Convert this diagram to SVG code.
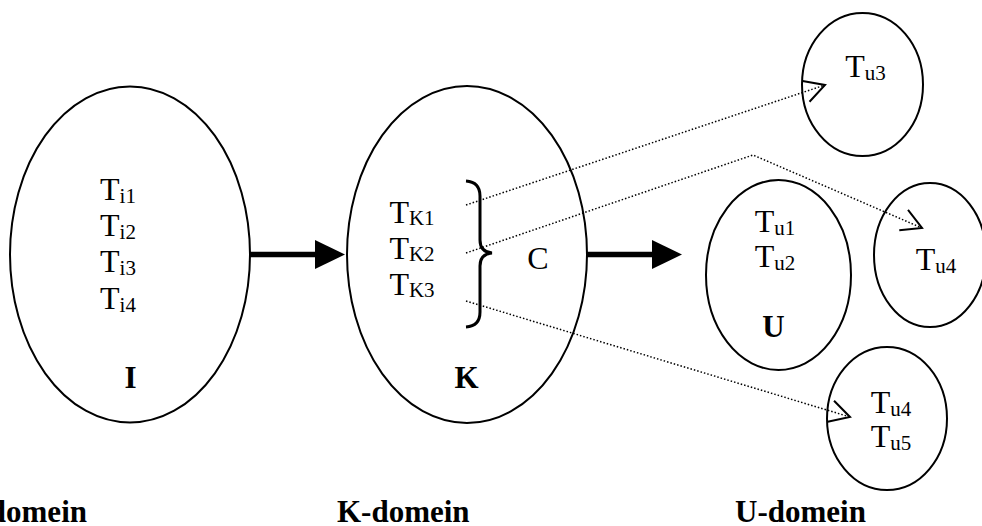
<svg xmlns="http://www.w3.org/2000/svg" width="982" height="526" viewBox="0 0 982 526">
<style>
  .node { fill: #fff; stroke: #000; stroke-width: 2; }
  .t { font-family: "Liberation Serif", "Times New Roman", serif; font-size: 32px; fill: #000; text-anchor: middle; }
  .b { font-family: "Liberation Serif", "Times New Roman", serif; font-size: 31px; font-weight: bold; fill: #000; }
  .s { font-size: 21px; }
  .thick { stroke: #000; stroke-width: 5.7; fill: none; }
  .dot { stroke: #000; stroke-width: 1.5; fill: none; stroke-dasharray: 1.5 2; }
</style>
<defs>
  <marker id="open" markerUnits="userSpaceOnUse" markerWidth="26" markerHeight="26" viewBox="0 0 26 26" refX="23" refY="13" orient="auto" overflow="visible">
    <path d="M3,2 L23,13 L3,24" fill="none" stroke="#000" stroke-width="2"/>
  </marker>
</defs>

<g id="node-I">
  <ellipse class="node" cx="130" cy="254.5" rx="120" ry="168"/>
  <text class="t" x="118" y="200">T<tspan class="s" dy="3">i1</tspan></text>
  <text class="t" x="118" y="236">T<tspan class="s" dy="3">i2</tspan></text>
  <text class="t" x="118" y="272">T<tspan class="s" dy="3">i3</tspan></text>
  <text class="t" x="118" y="309">T<tspan class="s" dy="3">i4</tspan></text>
  <text class="b" x="130.5" y="388" text-anchor="middle">I</text>
</g>

<g id="node-K">
  <ellipse class="node" cx="467" cy="254.5" rx="120" ry="168.5"/>
  <text class="t" x="412" y="223">T<tspan class="s" dy="2">K1</tspan></text>
  <text class="t" x="412" y="259">T<tspan class="s" dy="2">K2</tspan></text>
  <text class="t" x="412" y="295">T<tspan class="s" dy="2">K3</tspan></text>
  <path d="M466,181 Q480,182 480,196 L480,240 Q480,252 492,253 Q480,254 480,266 L480,312 Q480,326 466,327" fill="none" stroke="#000" stroke-width="3"/>
  <text class="t" x="538" y="269">C</text>
  <text class="b" x="466.5" y="388" text-anchor="middle">K</text>
</g>

<g id="node-U">
  <ellipse class="node" cx="778.5" cy="275" rx="72.5" ry="95"/>
  <text class="t" x="775" y="232">T<tspan class="s" dy="3">u1</tspan></text>
  <text class="t" x="775" y="267">T<tspan class="s" dy="3">u2</tspan></text>
  <text class="b" x="773.5" y="337" text-anchor="middle">U</text>
</g>

<g id="node-Tu3">
  <ellipse class="node" cx="862.5" cy="84.5" rx="60.5" ry="71.5"/>
  <text class="t" x="865.5" y="77">T<tspan class="s" dy="3">u3</tspan></text>
</g>

<g id="node-Tu4">
  <ellipse class="node" cx="930" cy="255" rx="56" ry="72"/>
  <text class="t" x="936" y="270">T<tspan class="s" dy="3">u4</tspan></text>
</g>

<g id="node-Tu45">
  <ellipse class="node" cx="887" cy="418.5" rx="60" ry="71.5"/>
  <text class="t" x="891" y="413">T<tspan class="s" dy="3">u4</tspan></text>
  <text class="t" x="891" y="447">T<tspan class="s" dy="3">u5</tspan></text>
</g>

<g id="connectors">
  <line class="thick" x1="250" y1="254.5" x2="317" y2="254.5"/>
  <polygon points="315,240 345,254.5 315,269" fill="#000"/>
  <line class="thick" x1="587" y1="254.5" x2="654" y2="254.5"/>
  <polygon points="652,240 682,254.5 652,269" fill="#000"/>
  <path class="dot" d="M466,205 L825,85" marker-end="url(#open)"/>
  <path class="dot" d="M466,253 L753,155 L922,228" marker-end="url(#open)"/>
  <path class="dot" d="M466,301 L850,417" marker-end="url(#open)"/>
</g>

<g id="labels">
  <text class="b" x="87" y="522" text-anchor="end">I-domein</text>
  <text class="b" x="337" y="522">K-domein</text>
  <text class="b" x="735" y="522">U-domein</text>
</g>
</svg>
